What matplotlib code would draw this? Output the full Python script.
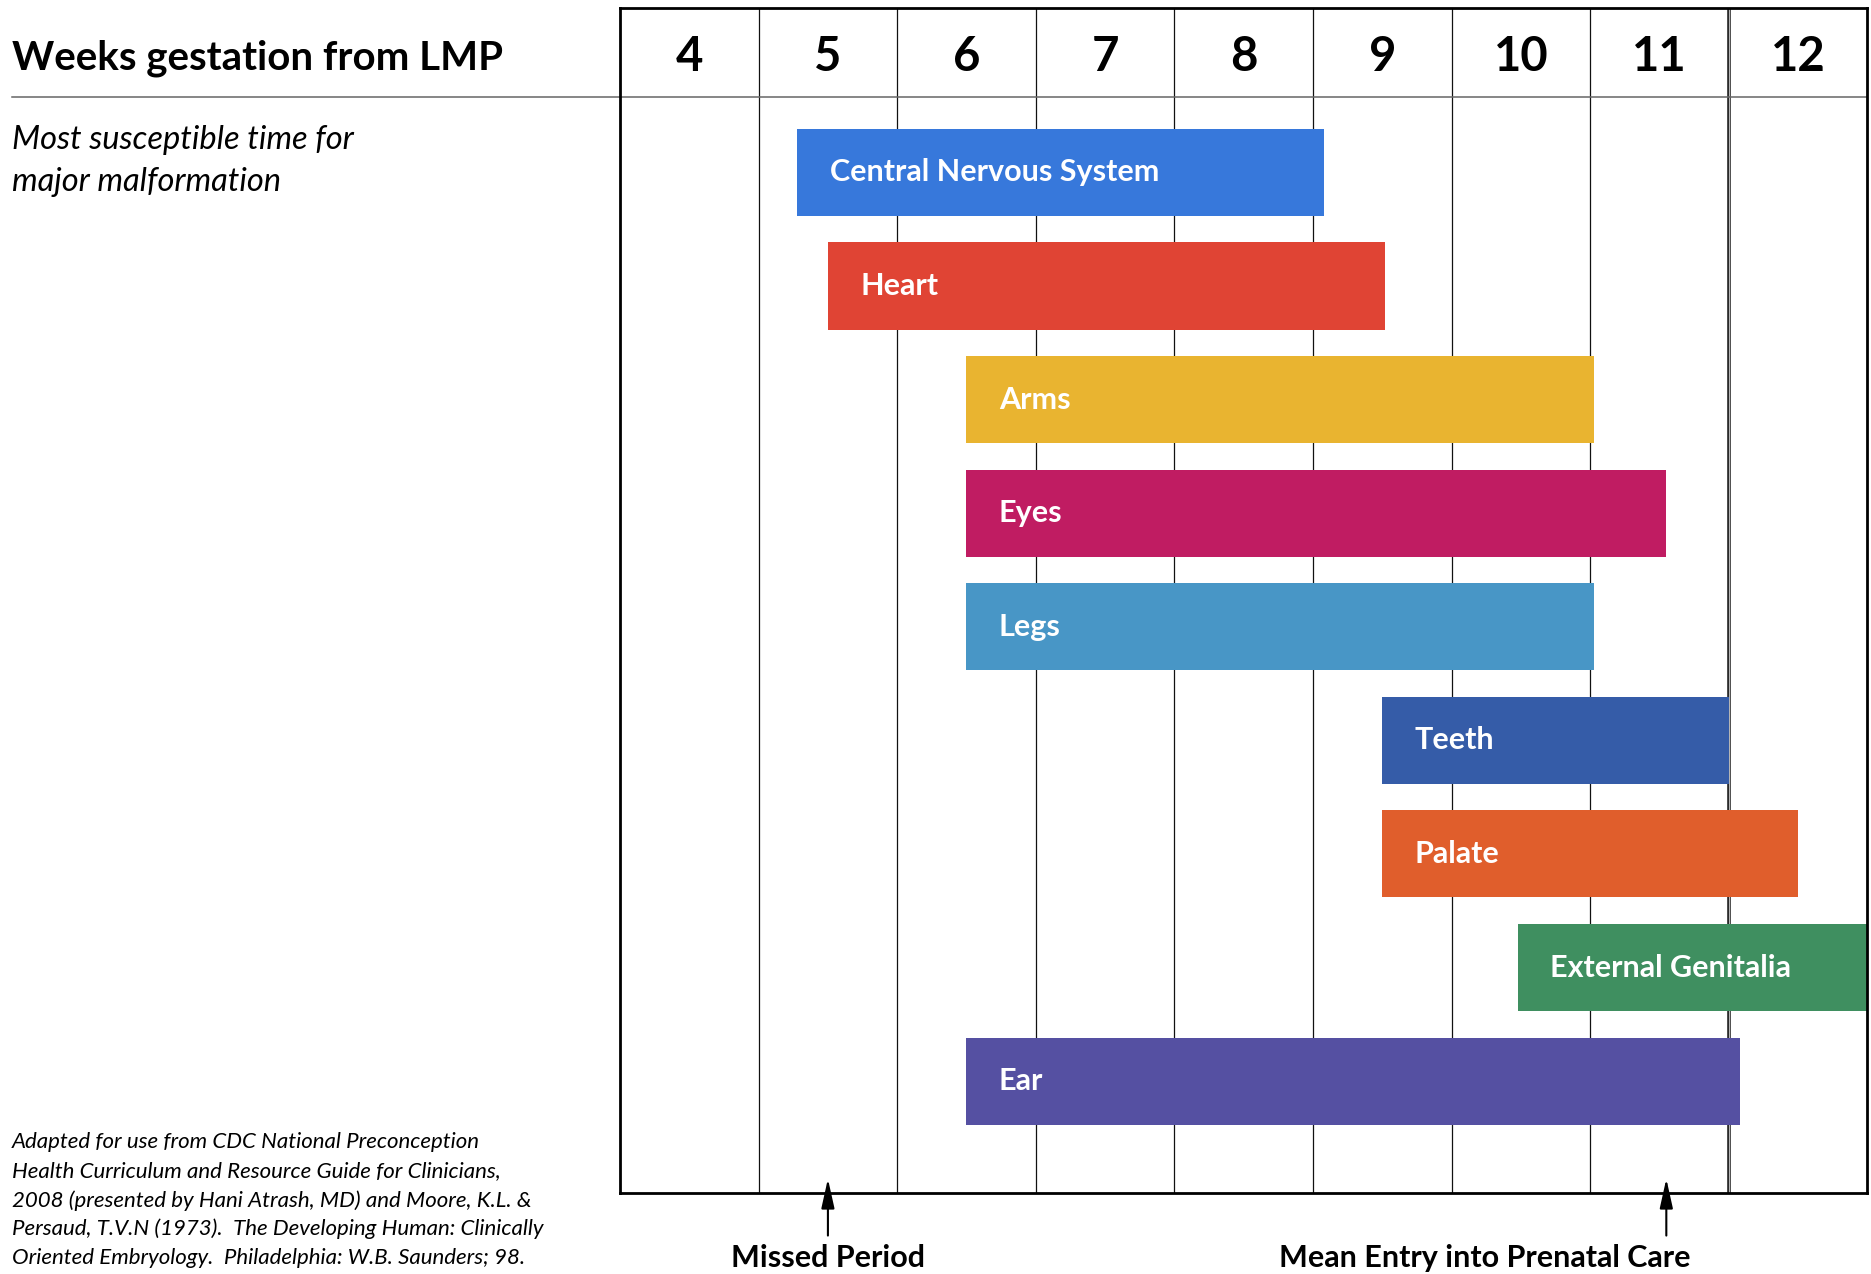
import matplotlib.pyplot as plt
from matplotlib.lines import Line2D
import matplotlib.transforms as mtransforms

plt.rcParams['font.family'] = ['Lato', 'DejaVu Sans']

# data: weeks of gestation (column of week w spans w .. w+1)
weeks = [4, 5, 6, 7, 8, 9, 10, 11, 12]
organs = ['Central Nervous System', 'Heart', 'Arms', 'Eyes', 'Legs',
          'Teeth', 'Palate', 'External Genitalia', 'Ear']
start = [5.28, 5.5, 6.5, 6.5, 6.5, 9.5, 9.5, 10.48, 6.5]
end = [9.08, 9.52, 11.03, 11.55, 11.03, 12.0, 12.5, 13.0, 12.08]
colors = ['#3778DB', '#E04434', '#E9B430', '#C01C62', '#4896C6',
          '#355CA8', '#E05E2C', '#3F8F60', '#5550A2']
markers = ['Missed Period', 'Mean Entry into Prenatal Care']
marker_week = [5.5, 11.55]
marker_label_x = [5.5, 10.24]

citation = [
    'Adapted for use from CDC National Preconception',
    'Health Curriculum and Resource Guide for Clinicians,',
    '2008 (presented by Hani Atrash, MD) and Moore, K.L. &',
    'Persaud, T.V.N (1973).  The Developing Human: Clinically',
    'Oriented Embryology.  Philadelphia: W.B. Saunders; 98.',
]

fig = plt.figure(figsize=(18.71, 12.74), dpi=100)
ax = fig.add_axes([0.3314, 0.0636, 0.998 - 0.3314, 0.9934 - 0.0636])

ax.set_xlim(4, 13)
ax.set_ylim(8.985, -1.444)
ax.set_xticks([])
ax.set_yticks([])
for s in ax.spines.values():
    s.set_linewidth(2.0)
    s.set_color('black')
    s.set_zorder(5)

# column lines
for w in weeks[1:]:
    if w == 12:
        ax.axvline(w, color='#222222', lw=2.6, zorder=1)
        ax.axvline(w, color='#b5b5b5', lw=0.8, zorder=1)
    else:
        ax.axvline(w, color='#111111', lw=0.9, zorder=1)

# header line
trans = mtransforms.blended_transform_factory(fig.transFigure, ax.transData)
ax.add_line(Line2D([0.0064, 0.998], [-0.667, -0.667], transform=trans,
                   color='#666666', lw=1.1, clip_on=False, zorder=2))

for w in weeks:
    ax.text(w + 0.5, -1.02, str(w), ha='center', va='center',
            fontsize=34, fontweight='bold', color='black')

ax.barh(range(len(organs)), [e - s for s, e in zip(start, end)], left=start,
        height=0.767, color=colors, zorder=3)
for i, name in enumerate(organs):
    ax.text(start[i] + 0.233, i, name, ha='left', va='center',
            fontsize=22, fontweight='bold', color='white', zorder=4)

# arrows below the chart
for lab, w, lx in zip(markers, marker_week, marker_label_x):
    ax.annotate('', xy=(w, 8.86), xytext=(w, 9.36),
                arrowprops=dict(arrowstyle='-|>,head_length=0.9,head_width=0.2',
                                mutation_scale=20, color='black', lw=1.5,
                                shrinkA=0, shrinkB=0),
                annotation_clip=False, zorder=6)
    ax.text(lx, 9.56, lab, ha='center', va='center', fontsize=22,
            fontweight='bold', clip_on=False)

fig.text(0.0064, 0.9545, 'Weeks gestation from LMP', ha='left', va='center',
         fontsize=29, fontweight='bold')
fig.text(0.0064, 0.890, 'Most susceptible time for', ha='left', va='center',
         fontsize=23.5, style='italic')
fig.text(0.0064, 0.857, 'major malformation', ha='left', va='center',
         fontsize=23.5, style='italic')

cy = [0.1036, 0.0811, 0.0577, 0.0352, 0.0127]
for y, line in zip(cy, citation):
    fig.text(0.0064, y, line, ha='left', va='center', fontsize=16,
             style='italic')

fig.savefig('out.png', dpi=100, facecolor='white')
